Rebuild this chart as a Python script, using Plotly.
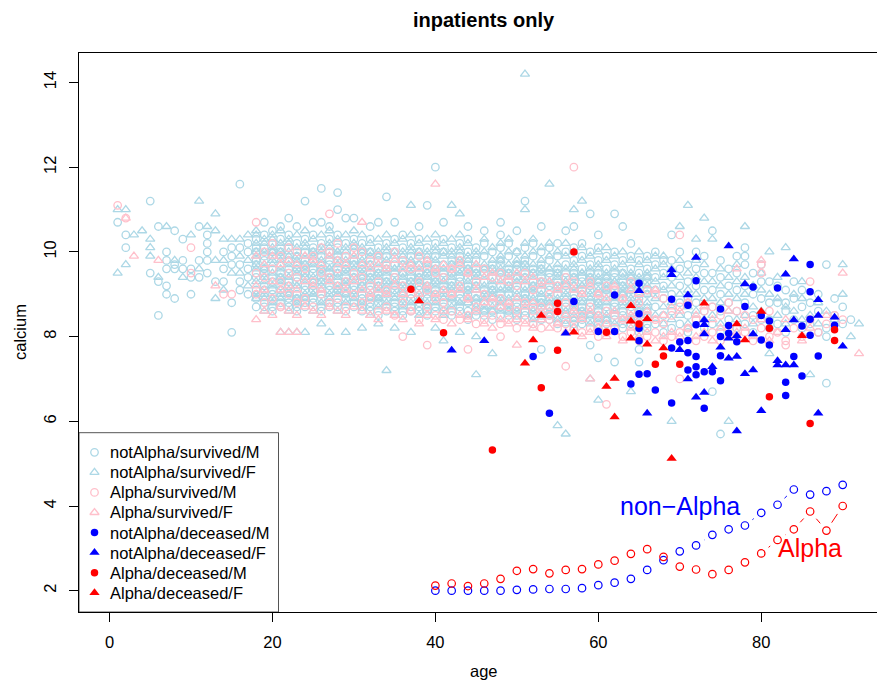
import math
import plotly.graph_objects as go

# ---------------- data (calcium in tenths, grouped by age) ----------------
# notAlpha / survived / M  (light blue open circles)
nas_m = {
    1: [107], 2: [104, 101], 5: [112, 95], 6: [106, 93, 85], 7: [100, 98, 96, 92, 90],
    8: [105, 97, 96, 89], 9: [103, 98, 96], 10: [96, 94, 90], 11: [106, 98, 94],
    12: [104, 102, 100, 98, 95], 13: [93], 14: [100, 96, 93], 15: [101, 99, 97, 88, 81],
    16: [116, 101, 97, 93, 91], 17: [102, 100, 96, 94, 90],
    18: [87, 91, 94, 97, 100, 103], 19: [88, 92, 95, 98, 101, 104, 107],
    20: [86, 90, 93, 96, 99, 102, 105], 21: [87, 91, 94, 97, 100, 103, 106],
    22: [88, 92, 95, 98, 101, 104, 108], 23: [86, 89, 93, 96, 99, 102, 106],
    24: [87, 91, 94, 97, 100, 103, 112], 25: [88, 92, 95, 98, 101, 104, 107],
    26: [86, 90, 93, 96, 99, 102, 107, 115], 27: [87, 91, 94, 97, 100, 103, 106],
    28: [88, 92, 95, 98, 101, 104, 110, 114], 29: [86, 90, 93, 96, 99, 102, 108],
    30: [87, 91, 94, 97, 100, 103, 108], 31: [86, 90, 93, 96, 99, 102],
    32: [87, 91, 94, 97, 100, 103, 106], 33: [85, 89, 92, 95, 98, 101, 107],
    34: [86, 90, 93, 96, 99, 102, 113], 35: [87, 91, 94, 97, 100, 103, 107],
    36: [85, 89, 92, 95, 98, 101, 104], 37: [86, 90, 93, 96, 99, 102],
    38: [87, 91, 94, 97, 100, 103, 106], 39: [85, 89, 92, 95, 98, 101, 111],
    40: [86, 90, 93, 96, 99, 102, 120], 41: [87, 91, 94, 97, 100, 103, 107],
    42: [85, 89, 92, 95, 98, 101], 43: [86, 90, 93, 96, 99, 102],
    44: [84, 88, 91, 94, 97, 100, 103, 106], 45: [85, 89, 92, 95, 98, 101],
    46: [86, 90, 93, 96, 99, 102, 105], 47: [84, 88, 91, 94, 97, 100],
    48: [85, 89, 92, 95, 98, 101, 104, 107], 49: [86, 90, 93, 96, 99, 102],
    50: [84, 88, 91, 94, 97, 100, 105], 51: [85, 89, 92, 95, 98, 101, 112],
    52: [83, 87, 90, 93, 96, 99, 102], 53: [84, 88, 91, 94, 97, 100, 106, 77],
    54: [85, 89, 92, 95, 98, 101], 55: [83, 87, 90, 93, 96, 99, 102],
    56: [84, 88, 91, 94, 97, 100, 105], 57: [82, 86, 89, 92, 95, 98, 101, 106],
    58: [83, 87, 90, 93, 96, 99, 102], 59: [84, 88, 91, 94, 97, 100, 109, 78],
    60: [82, 86, 89, 92, 95, 98, 101, 104, 75], 61: [83, 87, 90, 93, 96, 99],
    62: [84, 88, 91, 94, 97, 100, 109, 74], 63: [82, 86, 89, 92, 95, 98, 106],
    64: [83, 87, 90, 93, 96, 99, 102], 65: [81, 85, 89, 92, 95, 98, 74, 77],
    66: [82, 86, 90, 93, 96, 99], 67: [83, 87, 91, 94, 97, 100],
    68: [81, 85, 89, 92, 95, 98], 69: [82, 86, 90, 94, 98, 104],
    70: [83, 88, 92, 96, 100], 71: [81, 85, 89, 93, 97], 72: [84, 88, 92, 96, 100],
    73: [82, 86, 91, 95, 99], 74: [83, 87, 91, 95, 105, 67], 75: [81, 86, 90, 94, 98, 57],
    76: [84, 88, 92, 96], 77: [82, 86, 91, 95, 99], 78: [83, 88, 92, 97, 99, 101],
    79: [81, 85, 90, 95], 80: [84, 89, 93, 97], 81: [82, 84, 88, 93], 82: [83, 88, 92],
    83: [81, 86, 88, 91], 84: [84, 89, 93], 85: [82, 87, 91], 86: [83, 88],
    87: [81, 86, 90], 88: [82, 80, 97, 69], 89: [85, 89], 90: [83, 87], 91: [84],
}
# more notAlpha / survived / M in the dense core
nas_m_core = {
    18: [89, 95, 98, 101], 19: [87, 91, 96, 99], 20: [87, 91, 94, 100], 21: [88, 92, 95, 101],
    22: [87, 89, 93, 96], 23: [87, 90, 94, 97], 24: [88, 92, 95, 98], 25: [89, 91, 96, 100],
    26: [87, 89, 94, 97], 27: [88, 92, 95, 98], 28: [87, 91, 93, 99], 29: [89, 92, 94, 97],
    30: [88, 92, 95, 98], 31: [87, 89, 92, 97], 32: [86, 88, 92, 95], 33: [88, 90, 93, 96],
    34: [87, 89, 94, 97], 35: [86, 88, 92, 95], 36: [86, 90, 93, 97], 37: [87, 89, 94, 97],
    38: [86, 88, 92, 95], 39: [86, 90, 93, 96], 40: [87, 91, 94, 97], 41: [86, 88, 92, 95],
    42: [86, 88, 93, 97], 43: [87, 89, 94, 97], 44: [86, 90, 92, 96], 45: [86, 88, 93, 96],
    46: [85, 88, 91, 95], 47: [86, 89, 92, 96], 48: [87, 90, 94, 97], 49: [85, 88, 92, 95],
    50: [85, 87, 92, 96], 51: [86, 90, 94, 97], 52: [85, 88, 92, 95], 53: [85, 89, 93, 96],
    54: [84, 87, 91, 94], 55: [85, 88, 92, 95], 56: [85, 87, 92, 95], 57: [83, 88, 90, 94],
    58: [84, 86, 91, 94], 59: [85, 87, 92, 95], 60: [83, 85, 88, 93], 61: [84, 86, 91, 94],
    62: [85, 87, 92, 95], 63: [83, 85, 90, 93], 64: [84, 86, 91, 94], 65: [82, 86, 90, 93],
    66: [83, 85, 91, 94],
}
# notAlpha / survived / F  (light blue open triangles)
nas_f = {
    1: [110, 95], 2: [110, 97], 3: [104], 4: [105], 5: [103, 101, 99], 6: [94], 7: [106],
    8: [98], 9: [94], 10: [104], 11: [112, 96], 12: [106], 13: [109, 105, 98, 89],
    14: [103, 98, 91], 15: [103, 95], 16: [103, 99, 95], 17: [104, 98, 92],
    18: [89, 93, 96, 99, 102, 105], 19: [86, 90, 94, 97, 100, 103],
    20: [88, 92, 95, 98, 101, 104], 21: [89, 81, 93, 96, 99, 102, 105],
    22: [86, 81, 90, 94, 97, 100, 103], 23: [88, 81, 92, 95, 98, 101, 104],
    24: [89, 81, 93, 96, 99, 102, 105], 25: [86, 90, 94, 97, 100, 103],
    26: [88, 92, 95, 98, 101, 104, 83], 27: [89, 81, 93, 96, 99, 102, 105],
    28: [86, 90, 94, 97, 100, 103], 29: [88, 81, 92, 95, 98, 101, 104],
    30: [89, 93, 96, 99, 102, 105], 31: [88, 92, 95, 98, 101, 104, 82],
    32: [85, 89, 93, 96, 99, 102], 33: [87, 91, 94, 97, 100, 103, 83],
    34: [88, 92, 95, 98, 101, 104, 72], 35: [85, 89, 93, 96, 99, 102, 82],
    36: [87, 91, 94, 97, 100, 103], 37: [88, 92, 95, 98, 101, 104, 111, 81],
    38: [85, 89, 93, 96, 99, 102], 39: [87, 91, 94, 97, 100, 103],
    40: [88, 92, 95, 98, 101, 104, 82], 41: [85, 89, 93, 96, 99, 102, 79],
    42: [87, 91, 94, 97, 100, 103, 111], 43: [88, 92, 95, 98, 101, 104, 109, 81],
    44: [85, 89, 93, 96, 99, 102], 45: [87, 91, 94, 97, 100, 80, 71],
    46: [86, 90, 94, 97, 100, 103], 47: [87, 91, 95, 98, 101, 76],
    48: [86, 89, 93, 96, 99, 102], 49: [87, 91, 94, 97, 100, 103],
    50: [86, 90, 94, 97, 100], 51: [87, 89, 93, 96, 99, 102, 142, 110],
    52: [86, 91, 94, 97, 100, 103], 53: [84, 88, 92, 95, 98, 101],
    54: [85, 89, 93, 96, 99, 102, 116], 55: [84, 88, 91, 94, 97, 100, 59],
    56: [86, 90, 93, 96, 99, 102, 57], 57: [84, 87, 91, 94, 97, 100, 110],
    58: [85, 89, 92, 95, 98, 101, 112], 59: [86, 90, 93, 96, 99, 70],
    60: [84, 88, 91, 94, 97, 100, 65], 61: [85, 89, 92, 95, 98, 101],
    62: [86, 90, 93, 96, 99], 63: [84, 88, 91, 94, 97, 100],
    64: [85, 89, 92, 95, 98, 67], 65: [83, 87, 91, 94, 97, 100],
    66: [84, 88, 92, 95, 98], 67: [85, 89, 93, 96, 99], 68: [83, 87, 91, 94, 97, 99],
    69: [84, 88, 92, 96, 60], 70: [85, 90, 94, 98, 106], 71: [83, 87, 91, 95, 111],
    72: [86, 90, 94, 98, 103], 73: [84, 89, 93, 97, 108], 74: [85, 89, 93, 103],
    75: [83, 88, 92, 96], 76: [86, 90, 94, 60], 77: [84, 89, 93, 97],
    78: [85, 90, 94, 106], 79: [83, 87, 92], 80: [86, 91, 95], 81: [84, 90, 100, 76],
    82: [85, 89, 94], 83: [83, 87, 101], 84: [86, 90], 85: [84, 89, 93], 86: [85, 71],
    87: [83, 88], 88: [86], 89: [84], 90: [90, 97], 91: [80], 92: [83],
}
# more notAlpha / survived / F in the dense core
nas_f_core = {
    18: [90, 97, 100, 104], 19: [89, 93, 96, 102], 20: [89, 97, 100, 103], 21: [90, 94, 98, 100],
    22: [91, 94, 99, 102], 23: [89, 92, 96, 99], 24: [90, 94, 97, 101], 25: [90, 93, 97, 99],
    26: [91, 93, 96, 100], 27: [90, 94, 96, 101], 28: [91, 95, 97, 100], 29: [90, 93, 96, 100],
    30: [90, 94, 97, 101], 31: [91, 94, 96, 100], 32: [90, 94, 97, 100], 33: [89, 92, 95, 99],
    34: [91, 93, 96, 100], 35: [90, 93, 96, 100], 36: [88, 92, 95, 99], 37: [91, 93, 96, 100],
    38: [90, 94, 97, 100], 39: [88, 92, 95, 99], 40: [89, 93, 96, 100], 41: [90, 93, 96, 100],
    42: [89, 92, 95, 99], 43: [88, 91, 95, 100], 44: [88, 91, 95, 98], 45: [89, 92, 95, 99],
    46: [87, 89, 92, 96], 47: [86, 90, 93, 96], 48: [88, 91, 95, 98], 49: [86, 89, 92, 95],
    50: [89, 93, 95, 98], 51: [88, 91, 94, 97], 52: [84, 89, 92, 95], 53: [87, 90, 93, 96],
    54: [86, 88, 93, 96], 55: [86, 89, 92, 95], 56: [83, 86, 89, 93], 57: [85, 88, 92, 96],
    58: [86, 88, 92, 95], 59: [83, 85, 89, 94], 60: [87, 90, 93, 96], 61: [84, 88, 91, 94],
    62: [83, 86, 89, 93], 63: [87, 90, 92, 95], 64: [84, 88, 91, 94], 65: [84, 86, 88, 93],
    66: [85, 87, 90, 94],
}
# Alpha / survived / M  (pink open circles)
as_m = {
    1: [111], 2: [108], 10: [101, 95], 14: [90], 15: [90],
    18: [107, 90, 95], 19: [88, 94, 100], 20: [89, 96, 102], 21: [87, 93, 99],
    22: [90, 95, 101], 23: [88, 94, 100], 24: [89, 96], 25: [87, 93, 99],
    26: [90, 95, 101], 27: [109, 88, 94, 100], 28: [89, 96, 102], 29: [87, 93, 99],
    30: [90, 95, 101], 31: [88, 94, 100], 32: [89, 92, 98], 33: [86, 93, 99],
    34: [87, 91, 97], 35: [85, 94, 100], 36: [80, 88, 92, 98], 37: [86, 90, 96],
    38: [84, 93, 99], 39: [78, 87, 91, 97], 40: [85, 89, 95], 41: [84, 88, 94],
    42: [86, 90, 96], 43: [84, 92, 98], 44: [77, 85, 89, 95], 45: [83, 87, 93],
    46: [84, 90, 96], 47: [85, 88, 94], 48: [80, 83, 89, 95], 49: [84, 87, 93],
    50: [82, 86, 92], 51: [84, 88, 95], 52: [83, 86, 91], 53: [82, 87, 93],
    54: [84, 85, 90], 55: [82, 86, 92], 56: [73, 83, 88, 94], 57: [120, 84, 87, 93],
    58: [81, 85, 91], 59: [82, 87, 93], 60: [80, 84, 90], 61: [64, 81, 86, 92],
    62: [82, 85, 91], 63: [80, 84, 89], 64: [81, 86, 93], 65: [79, 83, 88],
    66: [80, 85, 91], 67: [81, 84, 90], 68: [79, 83, 89], 69: [80, 85],
    70: [70, 81, 87, 104], 71: [82, 88], 72: [79, 84], 73: [80, 86], 74: [81, 87],
    75: [79, 85], 76: [82, 88], 77: [80, 86], 78: [81, 85], 79: [79, 84],
    80: [95, 97, 82], 81: [80, 86], 82: [81], 83: [79, 78], 84: [82], 85: [80],
    86: [93, 84], 87: [81], 88: [83], 89: [85], 90: [84],
}
# Alpha / survived / F  (pink open triangles)
as_f = {
    2: [108], 3: [99], 6: [98], 13: [92],
    18: [84, 92, 99], 19: [86, 91, 97], 20: [85, 93, 99], 21: [81, 87, 91, 97],
    22: [81, 86, 92, 98], 23: [81, 85, 91, 97], 24: [87, 93, 99], 25: [86, 92, 98],
    26: [85, 91, 97], 27: [87, 93, 99], 28: [86, 92, 98], 29: [85, 91, 97],
    30: [87, 93, 99], 31: [107, 86, 91, 97], 32: [85, 90, 96], 33: [84, 91, 97],
    34: [86, 90, 96], 35: [85, 92, 98], 36: [84, 90, 96], 37: [86, 91, 97],
    38: [83, 90, 96], 39: [85, 92, 98], 40: [116, 84, 90, 96], 41: [86, 91, 97],
    42: [83, 90, 96], 43: [85, 91, 97], 44: [84, 89, 95], 45: [86, 91, 97],
    46: [83, 88, 94], 47: [82, 89, 95], 48: [84, 87, 93], 49: [83, 88, 94],
    50: [78, 84, 89, 95], 51: [83, 87, 93], 52: [82, 88, 94], 53: [84, 86, 92],
    54: [82, 87, 93], 55: [83, 86, 91], 56: [81, 85, 92], 57: [82, 86, 91],
    58: [80, 84, 90], 59: [70, 81, 86, 92], 60: [82, 85, 90], 61: [80, 83, 89],
    62: [81, 86, 92], 63: [79, 84, 89], 64: [82, 85, 91], 65: [80, 84, 90],
    66: [81, 86], 67: [79, 84, 91], 68: [80, 85], 69: [81, 87], 70: [80, 86],
    71: [82, 88], 72: [80, 85], 73: [81, 87], 74: [79, 84], 75: [82], 76: [80, 86],
    77: [96, 81], 78: [82], 79: [80], 80: [98, 84], 81: [79], 82: [81], 83: [84],
    85: [79], 86: [82], 88: [85], 90: [95], 92: [76],
}

# deceased patients (age, calcium)
nad_m_age = [86, 72, 65, 79, 82, 86, 62, 71, 69, 57, 75, 78, 65, 80, 81, 72, 76, 86, 65, 85,
             60, 62, 65, 75, 76, 77, 80, 81, 86, 69, 70, 71, 71, 72, 75, 84, 87, 71, 72, 72,
             73, 74, 75, 85, 65, 66, 64, 67, 83, 83, 69, 73, 52, 54, 89]
nad_m_ca = [9.70, 9.32, 9.26, 9.17, 9.15, 9.06, 8.98, 8.74, 8.88, 8.83, 8.65, 8.71, 8.54, 8.50,
            8.37, 8.28, 8.26, 8.41, 8.20, 8.25, 8.12, 8.12, 7.90, 8.00, 8.08, 7.88, 7.92, 7.80,
            8.03, 7.73, 7.87, 7.91, 7.62, 7.53, 7.55, 7.53, 7.54, 7.21, 7.29, 7.10, 7.17, 7.17,
            6.96, 7.07, 7.11, 7.12, 6.88, 6.74, 6.92, 6.61, 6.43, 6.31, 7.53, 6.19, 8.27]
nad_f_age = [76, 72, 84, 83, 69, 69, 65, 78, 71, 87, 73, 73, 84, 87, 89, 56, 73, 76, 77, 79,
             83, 90, 70, 75, 76, 77, 82, 82, 83, 84, 71, 74, 78, 79, 72, 73, 66, 80, 87, 77,
             42, 46]
nad_f_ca = [10.14, 9.87, 9.83, 9.47, 9.57, 9.46, 9.08, 9.24, 8.98, 8.87, 8.39, 8.28, 8.39, 8.50,
            8.46, 8.08, 8.06, 7.96, 8.02, 8.06, 8.16, 7.77, 7.69, 7.75, 7.49, 7.53, 7.43, 7.33,
            7.33, 7.33, 7.00, 7.29, 7.12, 7.21, 6.57, 6.68, 6.19, 6.25, 6.19, 5.77, 7.68, 7.90]
ad_m_age = [65, 81, 89, 89, 61, 68, 67, 70, 81, 86, 57, 37, 41, 47, 53, 55, 55, 55]
ad_m_ca = [8.30, 8.20, 8.16, 7.91, 8.10, 7.54, 7.35, 7.35, 6.58, 5.95, 10.00, 9.12, 8.09, 5.32,
           6.79, 8.79, 8.59, 7.68]
ad_f_age = [64, 73, 80, 64, 66, 77, 57, 64, 66, 78, 85, 68, 62, 61, 62, 38, 51, 52, 53, 69]
ad_f_ca = [8.73, 8.79, 8.59, 8.36, 8.42, 8.30, 8.10, 7.96, 7.82, 7.92, 8.02, 7.73, 7.01, 6.82,
           6.10, 8.84, 7.37, 7.92, 8.50, 5.12]

# summary curves at the bottom
curve_age = [40, 42, 44, 46, 48, 50, 52, 54, 56, 58, 60, 62, 64, 66, 68, 70, 72, 74, 76, 78,
             80, 82, 84, 86, 88, 90]
nonalpha_curve = [2.00, 2.00, 2.00, 2.00, 2.00, 2.02, 2.03, 2.04, 2.04, 2.06, 2.13, 2.19, 2.28,
                  2.49, 2.72, 2.93, 3.07, 3.32, 3.45, 3.54, 3.84, 4.03, 4.39, 4.27, 4.35, 4.50]
alpha_curve = [2.12, 2.17, 2.11, 2.17, 2.28, 2.47, 2.51, 2.41, 2.49, 2.51, 2.62, 2.71, 2.87,
               2.98, 2.80, 2.57, 2.50, 2.39, 2.49, 2.67, 2.88, 3.20, 3.45, 3.87, 3.42, 4.00]

legend_labels = ["notAlpha/survived/M", "notAlpha/survived/F", "Alpha/survived/M",
                 "Alpha/survived/F", "notAlpha/deceased/M", "notAlpha/deceased/F",
                 "Alpha/deceased/M", "Alpha/deceased/F"]

# ---------------- layout geometry ----------------
W, H = 877, 680
ML, MR, MT, MB = 79, 0, 53, 68
X0, X1 = -3.744, 94.21
Y0, Y1 = 1.497, 14.697
PW, PH = W - ML - MR, H - MT - MB
FONT = "Liberation Sans, Arial, Helvetica, sans-serif"


def px2x(px):
    return X0 + (px - ML) / PW * (X1 - X0)


def py2y(py):
    return Y0 + (H - MB - py) / PH * (Y1 - Y0)


def expand(*dicts):
    xs, ys = [], []
    for d in dicts:
        for age, vals in d.items():
            for v in vals:
                xs.append(age)
                ys.append(v / 10.0)
    return xs, ys


def b_segments(xs, ys, gap=9.5):
    sx = PW / (X1 - X0)
    sy = PH / (Y1 - Y0)
    gx, gy = [], []
    for i in range(len(xs) - 1):
        dx = (xs[i + 1] - xs[i]) * sx
        dy = (ys[i + 1] - ys[i]) * sy
        d = math.hypot(dx, dy)
        if d > 2 * gap:
            f = gap / d
            gx += [xs[i] + (xs[i + 1] - xs[i]) * f, xs[i + 1] - (xs[i + 1] - xs[i]) * f, None]
            gy += [ys[i] + (ys[i + 1] - ys[i]) * f, ys[i + 1] - (ys[i + 1] - ys[i]) * f, None]
    return gx, gy


LB, PK, BL, RD = "#ADD8E6", "#FFC0CB", "#0000FF", "#FF0000"
styles = [
    dict(symbol="circle-open", color=LB, size=7.5, line=dict(width=1.3, color=LB)),
    dict(symbol="triangle-up-open", color=LB, size=8, line=dict(width=1.3, color=LB)),
    dict(symbol="circle-open", color=PK, size=7.5, line=dict(width=1.3, color=PK)),
    dict(symbol="triangle-up-open", color=PK, size=8, line=dict(width=1.3, color=PK)),
    dict(symbol="circle", color=BL, size=7.5, line=dict(width=0)),
    dict(symbol="triangle-up", color=BL, size=9, line=dict(width=0)),
    dict(symbol="circle", color=RD, size=7.5, line=dict(width=0)),
    dict(symbol="triangle-up", color=RD, size=9, line=dict(width=0)),
]

series = [expand(nas_m_core, nas_m), expand(nas_f_core, nas_f), expand(as_m), expand(as_f),
          (nad_m_age, nad_m_ca), (nad_f_age, nad_f_ca), (ad_m_age, ad_m_ca), (ad_f_age, ad_f_ca)]

fig = go.Figure()
for (xs, ys), st, name in zip(series, styles, legend_labels):
    fig.add_trace(go.Scatter(x=xs, y=ys, mode="markers", marker=st, name=name,
                             showlegend=False, hoverinfo="skip"))

# bottom curves (points joined by lines with gaps, like type="b")
for ys, col in [(nonalpha_curve, BL), (alpha_curve, RD)]:
    gx, gy = b_segments(curve_age, ys)
    fig.add_trace(go.Scatter(x=gx, y=gy, mode="lines", line=dict(color=col, width=1),
                             showlegend=False, hoverinfo="skip"))
    fig.add_trace(go.Scatter(x=curve_age, y=ys, mode="markers",
                             marker=dict(symbol="circle-open", color=col, size=7.5,
                                         line=dict(width=1.2, color=col)),
                             showlegend=False, hoverinfo="skip"))

# ---------------- manual legend ----------------
LEG_L, LEG_R, LEG_T, LEG_B = 79, 278.5, 432.7, 612
fig.add_shape(type="rect", xref="paper", yref="paper",
              x0=(LEG_L - ML) / PW, x1=(LEG_R - ML) / PW,
              y0=(H - MB - LEG_B) / PH, y1=(H - MB - LEG_T) / PH,
              line=dict(color="#555555", width=1), fillcolor="white", layer="below")
row_y = [452.3 + 20.06 * i for i in range(len(legend_labels))]
for st, lab, ry in zip(styles, legend_labels, row_y):
    fig.add_trace(go.Scatter(x=[px2x(94.5)], y=[py2y(ry)], mode="markers", marker=st,
                             showlegend=False, hoverinfo="skip", cliponaxis=False))
    fig.add_annotation(x=(108 - ML) / PW, y=(H - MB - ry) / PH, xref="paper", yref="paper",
                       text=lab, showarrow=False, xanchor="left", yanchor="middle",
                       font=dict(family=FONT, size=16.5, color="black"))

# curve labels
fig.add_annotation(x=70, y=4.0, text="non\u2212Alpha", showarrow=False,
                   xanchor="center", yanchor="middle", font=dict(family=FONT, size=25, color=BL))
fig.add_annotation(x=86, y=3.0, text="Alpha", showarrow=False,
                   xanchor="center", yanchor="middle", font=dict(family=FONT, size=25, color=RD))

# titles
CX = (484 - ML) / PW
fig.add_annotation(x=CX, y=(H - MB - 20) / PH, xref="paper", yref="paper",
                   text="<b>inpatients only</b>", showarrow=False, xanchor="center",
                   yanchor="middle", font=dict(family=FONT, size=20, color="black"))
fig.add_annotation(x=CX, y=(H - MB - 671) / PH, xref="paper", yref="paper", text="age",
                   showarrow=False, xanchor="center", yanchor="middle",
                   font=dict(family=FONT, size=16.5, color="black"))
fig.add_annotation(x=(20 - ML) / PW, y=(H - MB - 332) / PH, xref="paper", yref="paper",
                   text="calcium", textangle=-90, showarrow=False, xanchor="center",
                   yanchor="middle", font=dict(family=FONT, size=16.5, color="black"))

fig.update_layout(
    width=W, height=H, margin=dict(l=ML, r=MR, t=MT, b=MB, autoexpand=False),
    plot_bgcolor="white", paper_bgcolor="white", showlegend=False,
    font=dict(family=FONT, size=16.5, color="black"),
)
fig.update_xaxes(range=[X0, X1], tickvals=[0, 20, 40, 60, 80], ticks="outside", ticklen=9,
                 tickcolor="black", showgrid=False, zeroline=False, showline=True,
                 linecolor="black", linewidth=1, mirror=True, ticklabelstandoff=6,
                 tickfont=dict(family=FONT, size=16.5, color="black"))
fig.update_yaxes(range=[Y0, Y1], tickvals=[2, 4, 6, 8, 10, 12, 14], ticks="outside", ticklen=9,
                 tickcolor="black", showgrid=False, zeroline=False, showline=True,
                 linecolor="black", linewidth=1, tickangle=-90, ticklabelstandoff=6,
                 tickfont=dict(family=FONT, size=16.5, color="black"))

fig.write_html("out.html", config={"displayModeBar": False},
               post_script="document.body.style.margin='0px';")
